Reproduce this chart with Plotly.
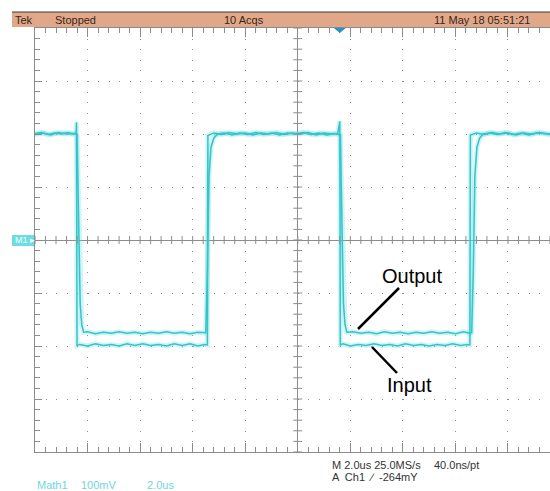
import plotly.graph_objects as go

# ---------------- data (time in microseconds, level in mV) ----------------
input_t = [-10.0, -9.75, -9.5, -9.25, -9.0, -8.75, -8.55, -8.44, -8.42, -8.40,
           -8.30, -8.0, -7.7, -7.4, -7.1, -6.8, -6.5, -6.2, -5.9, -5.6,
           -5.3, -5.0, -4.7, -4.4, -4.1, -3.8, -3.55, -3.44, -3.42, -3.2,
           -2.9, -2.6, -2.3, -2.0, -1.7, -1.4, -1.1, -0.8, -0.5, -0.2,
           0.1, 0.4, 0.7, 1.0, 1.3, 1.52, 1.60, 1.62, 1.72, 2.0,
           2.3, 2.6, 2.9, 3.2, 3.5, 3.8, 4.1, 4.4, 4.7, 5.0,
           5.3, 5.6, 5.9, 6.2, 6.45, 6.55, 6.57, 6.8, 7.1, 7.4,
           7.7, 8.0, 8.3, 8.6, 8.9, 9.2, 9.6]
input_mv = [201, 203, 199, 202, 200, 203, 200, 202, 222, -199,
            -197, -200, -196, -199, -197, -200, -196, -199, -196, -199,
            -197, -200, -196, -199, -196, -200, -197, -198, 197, 202,
            199, 203, 200, 202, 198, 202, 200, 203, 199, 202,
            200, 203, 198, 202, 200, 201, 224, -198, -196, -200,
            -197, -199, -196, -199, -197, -200, -196, -199, -197, -200,
            -197, -199, -196, -199, -197, -198, 198, 202, 199, 203,
            200, 202, 198, 202, 200, 203, 199]

output_t = [-10.0, -9.7, -9.4, -9.1, -8.8, -8.5, -8.40, -8.34, -8.28, -8.22,
            -8.15, -8.0, -7.7, -7.4, -7.1, -6.8, -6.5, -6.2, -5.9, -5.6,
            -5.3, -5.0, -4.7, -4.4, -4.1, -3.8, -3.55, -3.50, -3.44, -3.38,
            -3.30, -3.20, -3.05, -2.8, -2.5, -2.2, -1.9, -1.6, -1.3, -1.0,
            -0.7, -0.4, -0.1, 0.2, 0.5, 0.8, 1.1, 1.4, 1.62, 1.68,
            1.74, 1.80, 1.87, 2.1, 2.4, 2.7, 3.0, 3.3, 3.6, 3.9,
            4.2, 4.5, 4.8, 5.1, 5.4, 5.7, 6.0, 6.3, 6.55, 6.62,
            6.68, 6.74, 6.82, 6.92, 7.05, 7.3, 7.6, 7.9, 8.2, 8.5,
            8.8, 9.1, 9.6]
output_mv = [199, 202, 198, 203, 200, 201, 198, 60, -120, -160,
             -174, -173, -177, -174, -176, -173, -176, -174, -177, -174,
             -176, -173, -176, -174, -177, -174, -176, -175, -60, 120,
             175, 192, 200, 202, 198, 202, 199, 203, 199, 202,
             198, 202, 200, 203, 199, 202, 198, 201, 198, 60,
             -120, -160, -174, -173, -176, -174, -177, -173, -176, -174,
             -177, -174, -176, -173, -176, -174, -177, -173, -176, -175,
             -60, 120, 175, 192, 200, 202, 199, 203, 199, 202,
             198, 202, 200]

header_labels = ["Tek", "Stopped", "10 Acqs", "11 May 18 05:51:21"]
footer_lines = ["M 2.0us 25.0MS/s", "40.0ns/pt", "A  Ch1  \u2215  -264mY"]
math_labels = ["Math1", "100mV", "2.0us"]
callouts = ["Output", "Input"]
trigger_t = 1.6

# ---------------- geometry helpers ----------------
W, H = 550, 491
L, R, T, B = 35, 0, 28, 39
PW, PH = W - L - R, H - T - B
X0, X1 = -10.0, 9.6
Y0, Y1 = -400, 400


def px_to_paper(px, py):
    return (px - L) / PW, (H - B - py) / PH


def px_to_data(px, py):
    return X0 + (px - L) / PW * (X1 - X0), Y1 - (py - T) / PH * (Y1 - Y0)


TRACE = "#34c4ca"
GLOW = "rgba(90,215,222,0.28)"
GRID = "#8c8c8c"

fig = go.Figure()
for tt, vv, nm in [(input_t, input_mv, "Input"), (output_t, output_mv, "Output")]:
    fig.add_trace(go.Scatter(x=tt, y=vv, mode="lines", name=nm + " glow",
                             line=dict(color=GLOW, width=5), hoverinfo="skip"))
for tt, vv, nm in [(input_t, input_mv, "Input"), (output_t, output_mv, "Output")]:
    fig.add_trace(go.Scatter(x=tt, y=vv, mode="lines", name=nm,
                             line=dict(color=TRACE, width=1.5)))

shapes = []
# centre cross ticks
k = 0
while True:
    t = -10 + 0.4 * k
    if t > X1 + 1e-9:
        break
    shapes.append(dict(type="line", xref="x", yref="y", ysizemode="pixel", yanchor=0,
                       x0=t, x1=t, y0=-4, y1=4, line=dict(color=GRID, width=1)))
    k += 1
for k in range(41):
    v = -400 + 20 * k
    shapes.append(dict(type="line", xref="x", yref="y", xsizemode="pixel", xanchor=0,
                       x0=-4.5, x1=4.5, y0=v, y1=v, line=dict(color=GRID, width=1)))

# header bar
shapes.append(dict(type="rect", xref="paper", yref="paper", xsizemode="pixel", ysizemode="pixel",
                   xanchor=0, yanchor=1, x0=12 - L, x1=W - L + 2, y0=1, y1=16,
                   fillcolor="#e0a888", line=dict(width=0), layer="above"))
shapes.append(dict(type="line", xref="paper", yref="paper", xsizemode="pixel", ysizemode="pixel",
                   xanchor=0, yanchor=1, x0=12 - L, x1=W - L + 2, y0=16, y1=16,
                   line=dict(color="#3a3a3a", width=1.2), layer="above"))
# trigger marker
shapes.append(dict(type="path", xref="x", yref="paper", xsizemode="pixel", ysizemode="pixel",
                   xanchor=trigger_t, yanchor=1, path="M -6,0 L 6,0 L 0,-5 Z",
                   fillcolor="#2a90c8", line=dict(width=0), layer="above"))
# M1 marker box
shapes.append(dict(type="rect", xref="paper", yref="y", xsizemode="pixel", ysizemode="pixel",
                   xanchor=0, yanchor=0, x0=12 - L, x1=-1, y0=-6, y1=5,
                   fillcolor="#6cdde4", line=dict(width=0), layer="above"))

# callout lines
oa = px_to_data(399, 288); ob = px_to_data(358, 329)
ia = px_to_data(372, 347); ib = px_to_data(397, 373)
for a, b in [(oa, ob), (ia, ib)]:
    shapes.append(dict(type="line", xref="x", yref="y", x0=a[0], y0=a[1], x1=b[0], y1=b[1],
                       line=dict(color="black", width=2.5)))

annotations = []
hdr_font = dict(family="Liberation Sans Narrow, Liberation Sans, Arial", size=11, color="#3b2418")
for lab, px in zip(header_labels, [13, 53, 222, 432]):
    x, y = px_to_paper(px, 20)
    annotations.append(dict(text=lab, x=x, y=y, xref="paper", yref="paper", xanchor="left",
                            yanchor="middle", showarrow=False, font=hdr_font))
ft_font = dict(family="Liberation Sans Narrow, Liberation Sans, Arial", size=11, color="#333333")
for lab, (px, py) in zip(footer_lines, [(330, 465), (432, 465), (330, 477)]):
    x, y = px_to_paper(px, py)
    annotations.append(dict(text=lab, x=x, y=y, xref="paper", yref="paper", xanchor="left",
                            yanchor="middle", showarrow=False, font=ft_font))
m_font = dict(family="Liberation Sans Narrow, Liberation Sans, Arial", size=11, color="#6fd6de")
for lab, px in zip(math_labels, [35, 79, 145]):
    x, y = px_to_paper(px, 485)
    annotations.append(dict(text=lab, x=x, y=y, xref="paper", yref="paper", xanchor="left",
                            yanchor="middle", showarrow=False, font=m_font))
x, y = px_to_paper(13, 240)
annotations.append(dict(text="M1 \u25b8", x=x, y=y, xref="paper", yref="paper", xanchor="left",
                        yanchor="middle", showarrow=False,
                        font=dict(family="Liberation Sans Narrow, Arial", size=9, color="#f4ffff")))
for lab, (px, py) in zip(callouts, [(412, 276), (409, 385)]):
    x, y = px_to_data(px, py)
    annotations.append(dict(text=lab, x=x, y=y, xref="x", yref="y", showarrow=False,
                            font=dict(family="Liberation Sans, Arial", size=20, color="black")))

fig.update_layout(
    width=W, height=H, margin=dict(l=L, r=R, t=T, b=B, pad=0),
    paper_bgcolor="white", plot_bgcolor="white", showlegend=False,
    shapes=shapes, annotations=annotations,
    xaxis=dict(range=[X0, X1], showticklabels=False, tick0=0, dtick=2,
               showgrid=True, gridcolor=GRID, gridwidth=1, griddash="1px,9.6px",
               zeroline=True, zerolinecolor=GRID, zerolinewidth=1,
               showline=True, linecolor=GRID, linewidth=1, mirror="allticks",
               ticks="inside", ticklen=9, tickcolor=GRID,
               minor=dict(dtick=0.4, tick0=0, ticks="inside", ticklen=5, tickcolor=GRID, showgrid=False)),
    yaxis=dict(range=[Y0, Y1], showticklabels=False, tick0=0, dtick=100,
               showgrid=True, gridcolor=GRID, gridwidth=1, griddash="1px,9.5px",
               zeroline=True, zerolinecolor=GRID, zerolinewidth=1,
               showline=True, linecolor=GRID, linewidth=1, mirror=False,
               ticks="inside", ticklen=7, tickcolor=GRID,
               minor=dict(dtick=20, tick0=0, ticks="inside", ticklen=5, tickcolor=GRID, showgrid=False)),
)

fig.write_html("out.html")
